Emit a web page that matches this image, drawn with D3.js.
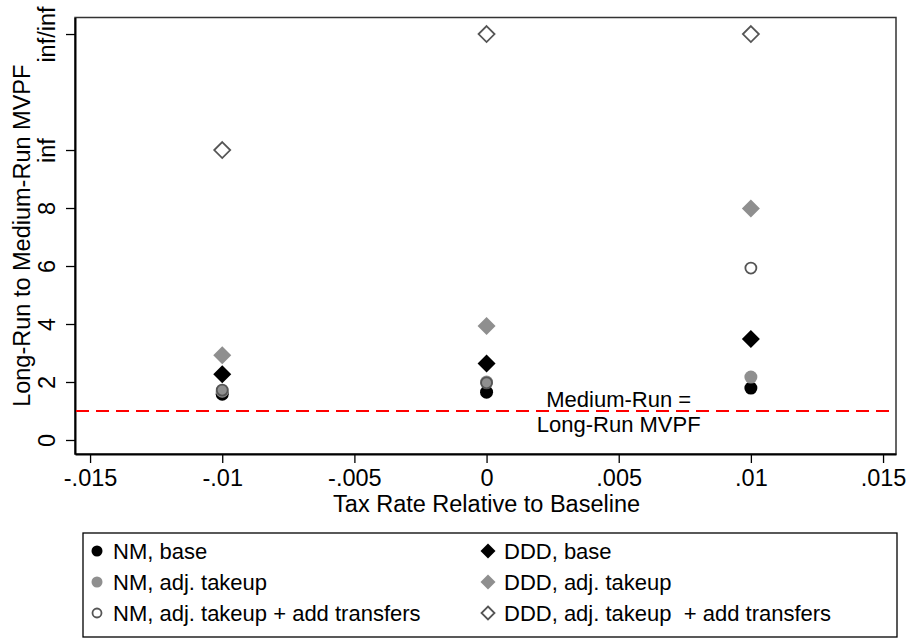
<!DOCTYPE html>
<html>
<head>
<meta charset="utf-8">
<script src="https://cdn.jsdelivr.net/npm/d3@7"></script>
<style>
  body { margin: 0; background: #fff; }
  svg { display: block; font-family: "Liberation Sans", Arial, sans-serif; }
</style>
</head>
<body>
<svg id="chart" width="909" height="641"></svg>
<script>
// tax rate positions
const taxRates = [-0.01, 0, 0.01];

// series values (inf coded as 10, inf/inf as 14)
const nmBase = [1.58, 1.65, 1.79];
const nmTakeup = [1.68, 2.0, 2.17];
const nmTransfers = [1.72, 1.97, 5.93];
const dddBase = [2.27, 2.64, 3.48];
const dddTakeup = [2.92, 3.93, 7.98];
const dddTransfers = [10, 14, 14];

const yTicks = [0, 2, 4, 6, 8, 10, 14];
const yTickLabels = ["0", "2", "4", "6", "8", "inf", "inf/inf"];
const xTicks = [-0.015, -0.01, -0.005, 0, 0.005, 0.01, 0.015];

const refLine = 1;

const seriesInfo = [
    { name: "NM, base", vals: nmBase, shape: "circle", fill: "#000", stroke: "none" },
    { name: "NM, adj. takeup", vals: nmTakeup, shape: "circle", fill: "#8f8f8f", stroke: "none" },
    { name: "NM, adj. takeup + add transfers", vals: nmTransfers, shape: "circle", fill: "none", stroke: "#555" },
    { name: "DDD, base", vals: dddBase, shape: "diamond", fill: "#000", stroke: "none" },
    { name: "DDD, adj. takeup", vals: dddTakeup, shape: "diamond", fill: "#8f8f8f", stroke: "none" },
    { name: "DDD, adj. takeup  + add transfers", vals: dddTransfers, shape: "diamond", fill: "none", stroke: "#555" }
];

const FS = 23.5;

const svg = d3.select("#chart");

const x = d3.scaleLinear().domain([-0.01557, 0.01549]).range([75, 896]);
const y = d3.scaleLinear().domain([-0.483, 14.57]).range([454, 17.5]);

// frame
svg.append("rect")
    .attr("x", 75).attr("y", 17.5)
    .attr("width", 821).attr("height", 436.5)
    .attr("fill", "none")
    .attr("stroke", "#333")
    .attr("stroke-width", 1.5);

// x axis
const xAxis = svg.append("g")
    .attr("transform", "translate(0,454)")
    .call(d3.axisBottom(x).tickValues(xTicks).tickSize(9).tickSizeOuter(0)
        .tickFormat(d => d === 0 ? "0" : String(+d.toFixed(3)).replace("0.", ".")));
xAxis.select(".domain").attr("stroke", "#000").attr("stroke-width", 2);
xAxis.selectAll(".tick line").attr("stroke", "#000").attr("stroke-width", 1.3);
xAxis.selectAll(".tick text")
    .attr("font-size", FS).attr("fill", "#000")
    .attr("y", 32).attr("dy", null);

// y axis
const yAxis = svg.append("g")
    .attr("transform", "translate(75,0)")
    .call(d3.axisLeft(y).tickValues(yTicks).tickSize(9).tickSizeOuter(0)
        .tickFormat((d, i) => yTickLabels[i]));
yAxis.select(".domain").attr("stroke", "#000").attr("stroke-width", 2);
yAxis.selectAll(".tick line").attr("stroke", "#000").attr("stroke-width", 1.3);
yAxis.selectAll(".tick text")
    .attr("font-size", FS).attr("fill", "#000")
    .attr("x", null).attr("dy", null)
    .attr("text-anchor", "middle")
    .attr("transform", "translate(-20,0) rotate(-90)");

// axis titles
svg.append("text")
    .attr("x", x(0)).attr("y", 512)
    .attr("text-anchor", "middle")
    .attr("font-size", FS)
    .text("Tax Rate Relative to Baseline");

svg.append("text")
    .attr("transform", `translate(30,${(17.5 + 454) / 2}) rotate(-90)`)
    .attr("text-anchor", "middle")
    .attr("font-size", FS)
    .text("Long-Run to Medium-Run MVPF");

// reference line
svg.append("line")
    .attr("x1", 76).attr("x2", 895)
    .attr("y1", y(refLine)).attr("y2", y(refLine))
    .attr("stroke", "#ff0000")
    .attr("stroke-width", 2)
    .attr("stroke-dasharray", "13,7");

svg.append("text")
    .attr("x", x(0.005)).attr("y", y(refLine) - 4)
    .attr("text-anchor", "middle")
    .attr("font-size", 22)
    .text("Medium-Run =");
svg.append("text")
    .attr("x", x(0.005)).attr("y", y(refLine) + 21)
    .attr("text-anchor", "middle")
    .attr("font-size", 22)
    .text("Long-Run MVPF");

// markers
function drawMarker(g, s, cx, cy, big) {
    if (s.shape === "circle") {
        const r = big ? (s.fill === "none" ? 5.5 : 6.5) : (s.fill === "none" ? 4.5 : 5.5);
        g.append("circle")
            .attr("cx", cx).attr("cy", cy).attr("r", r)
            .attr("fill", s.fill)
            .attr("stroke", s.stroke)
            .attr("stroke-width", 1.8);
    } else {
        const h = big ? (s.fill === "none" ? 8 : 9) : (s.fill === "none" ? 6.5 : 7.5);
        g.append("path")
            .attr("d", `M${cx},${cy - h}L${cx + h},${cy}L${cx},${cy + h}L${cx - h},${cy}Z`)
            .attr("fill", s.fill)
            .attr("stroke", s.stroke)
            .attr("stroke-width", 1.8);
    }
}

const pts = svg.append("g");
seriesInfo.forEach(s => {
    s.vals.forEach((v, i) => drawMarker(pts, s, x(taxRates[i]), y(v), true));
});

// legend
svg.append("rect")
    .attr("x", 83).attr("y", 533)
    .attr("width", 814).attr("height", 104)
    .attr("fill", "#fff")
    .attr("stroke", "#000")
    .attr("stroke-width", 1.3);

const legend = svg.append("g");
seriesInfo.forEach((s, i) => {
    const col = i < 3 ? 0 : 1;
    const row = i % 3;
    const mx = col === 0 ? 97 : 488;
    const my = 551 + row * 31;
    drawMarker(legend, s, mx, my, false);
    legend.append("text")
        .attr("x", mx + 16).attr("y", my)
        .attr("dy", "0.35em")
        .attr("font-size", 22)
        .style("white-space", "pre")
        .text(s.name);
});
</script>
</body>
</html>
